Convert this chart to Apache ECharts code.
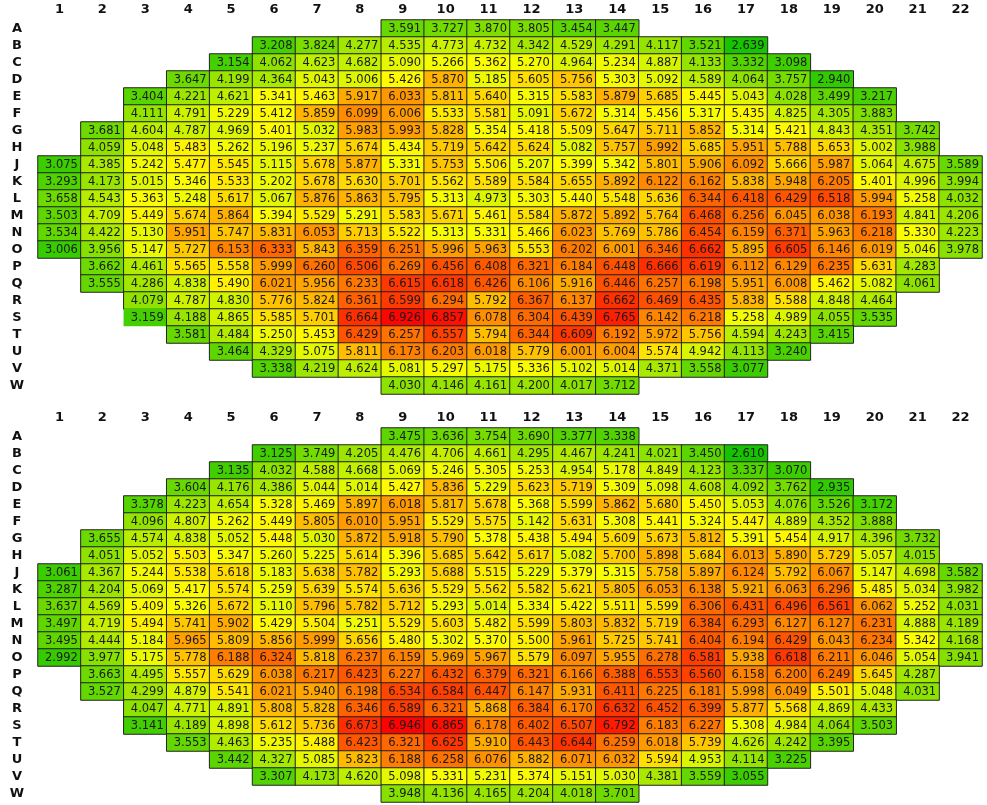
<!DOCTYPE html>
<html>
<head>
<meta charset="utf-8">
<title>Assembly map</title>
<script src="https://cdn.jsdelivr.net/npm/echarts@6/dist/echarts.min.js"></script>
<style>
  html, body { margin: 0; padding: 0; background: #fff; }
  #chart { width: 987px; height: 805px; }
</style>
</head>
<body>
<div id="chart"></div>
<script>
// Row and column labels of the core map (row I is not used)
const rowNames = ['A','B','C','D','E','F','G','H','J','K','L','M','N','O','P','Q','R','S','T','U','V','W'];
const colNames = ['1','2','3','4','5','6','7','8','9','10','11','12','13','14','15','16','17','18','19','20','21','22'];
// First occupied column of each row
const firstCol = [9,6,5,4,3,3,2,2,1,1,1,1,1,1,2,2,3,3,4,5,6,9];

// Upper map, one array per row
const upA = [3.591,3.727,3.870,3.805,3.454,3.447];
const upB = [3.208,3.824,4.277,4.535,4.773,4.732,4.342,4.529,4.291,4.117,3.521,2.639];
const upC = [3.154,4.062,4.623,4.682,5.090,5.266,5.362,5.270,4.964,5.234,4.887,4.133,3.332,3.098];
const upD = [3.647,4.199,4.364,5.043,5.006,5.426,5.870,5.185,5.605,5.756,5.303,5.092,4.589,4.064,3.757,2.940];
const upE = [3.404,4.221,4.621,5.341,5.463,5.917,6.033,5.811,5.640,5.315,5.583,5.879,5.685,5.445,5.043,4.028,3.499,3.217];
const upF = [4.111,4.791,5.229,5.412,5.859,6.099,6.006,5.533,5.581,5.091,5.672,5.314,5.456,5.317,5.435,4.825,4.305,3.883];
const upG = [3.681,4.604,4.787,4.969,5.401,5.032,5.983,5.993,5.828,5.354,5.418,5.509,5.647,5.711,5.852,5.314,5.421,4.843,4.351,3.742];
const upH = [4.059,5.048,5.483,5.262,5.196,5.237,5.674,5.434,5.719,5.642,5.624,5.082,5.757,5.992,5.685,5.951,5.788,5.653,5.002,3.988];
const upJ = [3.075,4.385,5.242,5.477,5.545,5.115,5.678,5.877,5.331,5.753,5.506,5.207,5.399,5.342,5.801,5.906,6.092,5.666,5.987,5.064,4.675,3.589];
const upK = [3.293,4.173,5.015,5.346,5.533,5.202,5.678,5.630,5.701,5.562,5.589,5.584,5.655,5.892,6.122,6.162,5.838,5.948,6.205,5.401,4.996,3.994];
const upL = [3.658,4.543,5.363,5.248,5.617,5.067,5.876,5.863,5.795,5.313,4.973,5.303,5.440,5.548,5.636,6.344,6.418,6.429,6.518,5.994,5.258,4.032];
const upM = [3.503,4.709,5.449,5.674,5.864,5.394,5.529,5.291,5.583,5.671,5.461,5.584,5.872,5.892,5.764,6.468,6.256,6.045,6.038,6.193,4.841,4.206];
const upN = [3.534,4.422,5.130,5.951,5.747,5.831,6.053,5.713,5.522,5.313,5.331,5.466,6.023,5.769,5.786,6.454,6.159,6.371,5.963,6.218,5.330,4.223];
const upO = [3.006,3.956,5.147,5.727,6.153,6.333,5.843,6.359,6.251,5.996,5.963,5.553,6.202,6.001,6.346,6.662,5.895,6.605,6.146,6.019,5.046,3.978];
const upP = [3.662,4.461,5.565,5.558,5.999,6.260,6.506,6.269,6.456,6.408,6.321,6.184,6.448,6.666,6.619,6.112,6.129,6.235,5.631,4.283];
const upQ = [3.555,4.286,4.838,5.490,6.021,5.956,6.233,6.615,6.618,6.426,6.106,5.916,6.446,6.257,6.198,5.951,6.008,5.462,5.082,4.061];
const upR = [4.079,4.787,4.830,5.776,5.824,6.361,6.599,6.294,5.792,6.367,6.137,6.662,6.469,6.435,5.838,5.588,4.848,4.464];
const upS = [3.159,4.188,4.865,5.585,5.701,6.664,6.926,6.857,6.078,6.304,6.439,6.765,6.142,6.218,5.258,4.989,4.055,3.535];
const upT = [3.581,4.484,5.250,5.453,6.429,6.257,6.557,5.794,6.344,6.609,6.192,5.972,5.756,4.594,4.243,3.415];
const upU = [3.464,4.329,5.075,5.811,6.173,6.203,6.018,5.779,6.001,6.004,5.574,4.942,4.113,3.240];
const upV = [3.338,4.219,4.624,5.081,5.297,5.175,5.336,5.102,5.014,4.371,3.558,3.077];
const upW = [4.030,4.146,4.161,4.200,4.017,3.712];

// Lower map, one array per row
const loA = [3.475,3.636,3.754,3.690,3.377,3.338];
const loB = [3.125,3.749,4.205,4.476,4.706,4.661,4.295,4.467,4.241,4.021,3.450,2.610];
const loC = [3.135,4.032,4.588,4.668,5.069,5.246,5.305,5.253,4.954,5.178,4.849,4.123,3.337,3.070];
const loD = [3.604,4.176,4.386,5.044,5.014,5.427,5.836,5.229,5.623,5.719,5.309,5.098,4.608,4.092,3.762,2.935];
const loE = [3.378,4.223,4.654,5.328,5.469,5.897,6.018,5.817,5.678,5.368,5.599,5.862,5.680,5.450,5.053,4.076,3.526,3.172];
const loF = [4.096,4.807,5.262,5.449,5.805,6.010,5.951,5.529,5.575,5.142,5.631,5.308,5.441,5.324,5.447,4.889,4.352,3.888];
const loG = [3.655,4.574,4.838,5.052,5.448,5.030,5.872,5.918,5.790,5.378,5.438,5.494,5.609,5.673,5.812,5.391,5.454,4.917,4.396,3.732];
const loH = [4.051,5.052,5.503,5.347,5.260,5.225,5.614,5.396,5.685,5.642,5.617,5.082,5.700,5.898,5.684,6.013,5.890,5.729,5.057,4.015];
const loJ = [3.061,4.367,5.244,5.538,5.618,5.183,5.638,5.782,5.293,5.688,5.515,5.229,5.379,5.315,5.758,5.897,6.124,5.792,6.067,5.147,4.698,3.582];
const loK = [3.287,4.204,5.069,5.417,5.574,5.259,5.639,5.574,5.636,5.529,5.562,5.582,5.621,5.805,6.053,6.138,5.921,6.063,6.296,5.485,5.034,3.982];
const loL = [3.637,4.569,5.409,5.326,5.672,5.110,5.796,5.782,5.712,5.293,5.014,5.334,5.422,5.511,5.599,6.306,6.431,6.496,6.561,6.062,5.252,4.031];
const loM = [3.497,4.719,5.494,5.741,5.902,5.429,5.504,5.251,5.529,5.603,5.482,5.599,5.803,5.832,5.719,6.384,6.293,6.127,6.127,6.231,4.888,4.189];
const loN = [3.495,4.444,5.184,5.965,5.809,5.856,5.999,5.656,5.480,5.302,5.370,5.500,5.961,5.725,5.741,6.404,6.194,6.429,6.043,6.234,5.342,4.168];
const loO = [2.992,3.977,5.175,5.778,6.188,6.324,5.818,6.237,6.159,5.969,5.967,5.579,6.097,5.955,6.278,6.581,5.938,6.618,6.211,6.046,5.054,3.941];
const loP = [3.663,4.495,5.557,5.629,6.038,6.217,6.423,6.227,6.432,6.379,6.321,6.166,6.388,6.553,6.560,6.158,6.200,6.249,5.645,4.287];
const loQ = [3.527,4.299,4.879,5.541,6.021,5.940,6.198,6.534,6.584,6.447,6.147,5.931,6.411,6.225,6.181,5.998,6.049,5.501,5.048,4.031];
const loR = [4.047,4.771,4.891,5.808,5.828,6.346,6.589,6.321,5.868,6.384,6.170,6.632,6.452,6.399,5.877,5.568,4.869,4.433];
const loS = [3.141,4.189,4.898,5.612,5.736,6.673,6.946,6.865,6.178,6.402,6.507,6.792,6.183,6.227,5.308,4.984,4.064,3.503];
const loT = [3.553,4.463,5.235,5.488,6.423,6.321,6.625,5.910,6.443,6.644,6.259,6.018,5.739,4.626,4.242,3.395];
const loU = [3.442,4.327,5.085,5.823,6.188,6.258,6.076,5.882,6.071,6.032,5.594,4.953,4.114,3.225];
const loV = [3.307,4.173,4.620,5.098,5.331,5.231,5.374,5.151,5.030,4.381,3.559,3.055];
const loW = [3.948,4.136,4.165,4.204,4.018,3.701];

const upperRows = [upA,upB,upC,upD,upE,upF,upG,upH,upJ,upK,upL,upM,upN,upO,upP,upQ,upR,upS,upT,upU,upV,upW];
const lowerRows = [loA,loB,loC,loD,loE,loF,loG,loH,loJ,loK,loL,loM,loN,loO,loP,loQ,loR,loS,loT,loU,loV,loW];

// Cells drawn without an outline in the upper map
const upperNoFrame = [['S', '3']];

// Colour ramp: green -> yellow -> red
const rampMin = 2.6, rampMax = 6.95;
const rampStops = [[2.6, [20, 195, 0]], [5.4, [255, 255, 0]], [6.95, [255, 0, 0]]];

function rampColor(v) {
  for (let i = 1; i < rampStops.length; i++) {
    const [v0, c0] = rampStops[i - 1], [v1, c1] = rampStops[i];
    if (v <= v1 || i === rampStops.length - 1) {
      const t = Math.max(0, Math.min(1, (v - v0) / (v1 - v0)));
      const c = c0.map((a, k) => Math.round(a + (c1[k] - a) * t));
      return 'rgb(' + c.join(',') + ')';
    }
  }
}
const palette = [];
const nSteps = 60;
for (let i = 0; i <= nSteps; i++) palette.push(rampColor(rampMin + (rampMax - rampMin) * i / nSteps));

function buildCells(rows, noFrame) {
  const cells = [];
  rows.forEach((vals, r) => {
    vals.forEach((v, k) => {
      const c = firstCol[r] - 1 + k;
      const item = { value: [c, r, v] };
      if (noFrame && noFrame.some(([rn, cn]) => rn === rowNames[r] && cn === colNames[c])) {
        item.itemStyle = { borderWidth: 0 };
      }
      cells.push(item);
    });
  });
  return cells;
}

const axisFont = { fontFamily: 'DejaVu Sans', fontWeight: 'bold', fontSize: 13, color: '#111' };

function xAxisFor(gi) {
  return {
    type: 'category', data: colNames, gridIndex: gi, position: 'top',
    axisLine: { show: false }, axisTick: { show: false }, splitLine: { show: false },
    axisLabel: Object.assign({ margin: 4, interval: 0 }, axisFont)
  };
}
function yAxisFor(gi) {
  return {
    type: 'category', data: rowNames, gridIndex: gi, inverse: true,
    axisLine: { show: false }, axisTick: { show: false }, splitLine: { show: false },
    axisLabel: Object.assign({ margin: 21, align: 'center', interval: 0 }, axisFont)
  };
}

function heatSeries(gi, data) {
  return {
    type: 'heatmap', xAxisIndex: gi, yAxisIndex: gi, data: data,
    itemStyle: { borderColor: '#222', borderWidth: 1 },
    label: {
      show: true, offset: [2, 0.5],
      fontFamily: 'DejaVu Sans', fontSize: 11.5, color: '#1a1a1a',
      formatter: p => p.value[2].toFixed(3)
    },
    emphasis: { disabled: true },
    animation: false
  };
}

const chart = echarts.init(document.getElementById('chart'), null, { renderer: 'canvas' });
chart.setOption({
  backgroundColor: '#ffffff',
  animation: false,
  grid: [
    { left: 38, right: 5, top: 20, height: 374 },
    { left: 38, right: 5, top: 428, height: 374 }
  ],
  xAxis: [xAxisFor(0), xAxisFor(1)],
  yAxis: [yAxisFor(0), yAxisFor(1)],
  visualMap: {
    type: 'continuous', show: false, min: rampMin, max: rampMax, dimension: 2,
    seriesIndex: [0, 1], inRange: { color: palette }
  },
  series: [
    heatSeries(0, buildCells(upperRows, upperNoFrame)),
    heatSeries(1, buildCells(lowerRows, null))
  ]
});
</script>
</body>
</html>
